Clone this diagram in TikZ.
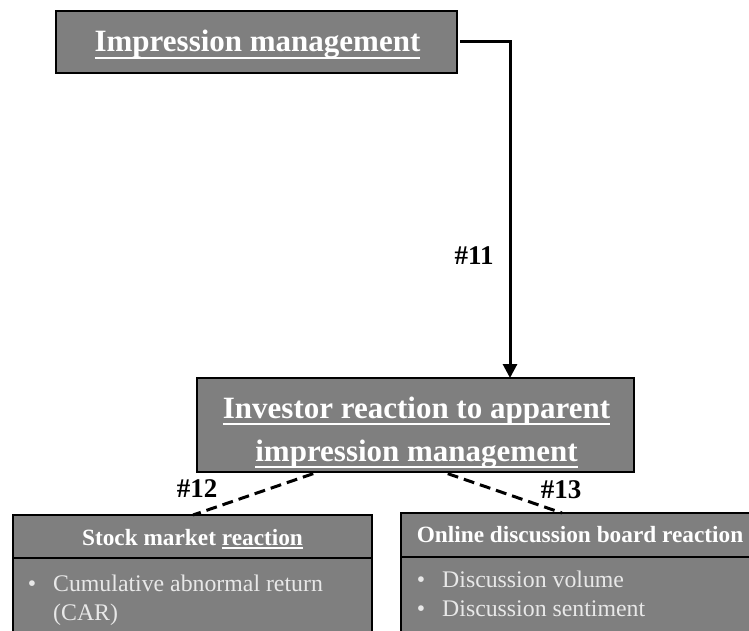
\documentclass[tikz,border=0pt]{standalone}
\usepackage{fontspec}
\setmainfont{Liberation Serif}
\usetikzlibrary{arrows.meta}
\definecolor{boxgray}{HTML}{7F7F7F}
\definecolor{bodytext}{HTML}{E8E8E8}
% underline with a chosen drop below the baseline
\newcommand\ulw[2]{\leavevmode\setbox0\hbox{#2}\rlap{\rule[-#1]{\wd0}{1.8pt}}\box0}
\begin{document}
\begin{tikzpicture}[x=1pt,y=-1pt,
  box/.style={draw=black, line width=2pt, fill=boxgray, inner sep=0pt, outer sep=0pt},
  title/.style={text=white, font=\bfseries\fontsize{31}{42}\selectfont, inner sep=0pt},
  head/.style={text=white, font=\bfseries\fontsize{23.3}{26}\selectfont, inner sep=0pt},
  bodytxt/.style={text=bodytext, font=\fontsize{23.8}{28}\selectfont, inner sep=0pt},
  lab/.style={text=black, font=\bfseries\fontsize{27}{30}\selectfont, inner sep=0pt},
  conn/.style={line width=3pt, -{Triangle[width=14pt,length=14pt]}},
  dashline/.style={line width=3pt, dash pattern=on 11pt off 6pt}]
\useasboundingbox (0,0) rectangle (749,631);
\clip (0,0) rectangle (749,631);

% boxes
\node[box, minimum width=401pt, minimum height=62pt] (im) at (256.5,42) {};
\node[box, minimum width=437pt, minimum height=94pt] (inv) at (415.5,425) {};
\node[box, anchor=north west, minimum width=359pt, minimum height=100pt] (smb) at (13,558) {};
\node[box, minimum width=359pt, minimum height=43pt] (smh) at (192.5,536.5) {};
\node[box, anchor=north west, minimum width=358pt, minimum height=100pt] (odb) at (401,557) {};
\node[box, minimum width=358pt, minimum height=44pt] (odh) at (580,535) {};

% box texts
\node[title, anchor=base] (imt) at (257.5,52) {\ulw{7pt}{Impression management}};
\node[title, anchor=base] (inv1) at (416.5,418) {\ulw{7pt}{Investor reaction to apparent}};
\node[title, anchor=base] (inv2) at (416.5,461) {\ulw{7pt}{impression management}};
\node[head, anchor=base] (smt) at (192.5,545) {Stock market \ulw{4pt}{reaction}};
\node[head, anchor=base] (odt) at (580,542) {Online discussion board reaction};

\node[bodytxt, anchor=base] (smb1) at (32,591) {\textbullet};
\node[bodytxt, anchor=base west] (sm1) at (53,591) {Cumulative abnormal return};
\node[bodytxt, anchor=base west] (sm2) at (53,620) {(CAR)};
\node[bodytxt, anchor=base] (odb1) at (421,587) {\textbullet};
\node[bodytxt, anchor=base west] (od1) at (442,587) {Discussion volume};
\node[bodytxt, anchor=base] (odb2) at (421,616) {\textbullet};
\node[bodytxt, anchor=base west] (od2) at (442,616) {Discussion sentiment};

% connectors
\coordinate (turn) at (510,42);
\draw[conn, shorten <=3pt] (im.east) -- (turn) -- (turn |- inv.north);

\coordinate (la) at (318,0);
\coordinate (lb) at (193,0);
\coordinate (ra) at (443,0);
\coordinate (rb) at (562,0);
\draw[dashline, shorten <=5pt] (inv.south -| la) -- (smh.north -| lb);
\draw[dashline, shorten <=5pt] (inv.south -| ra) -- (odh.north -| rb);

% path labels
\node[lab, anchor=base] (l11) at (474,264) {\#11};
\node[lab, anchor=base] (l12) at (197,497) {\#12};
\node[lab, anchor=base] (l13) at (561,498) {\#13};
\end{tikzpicture}
\end{document}
